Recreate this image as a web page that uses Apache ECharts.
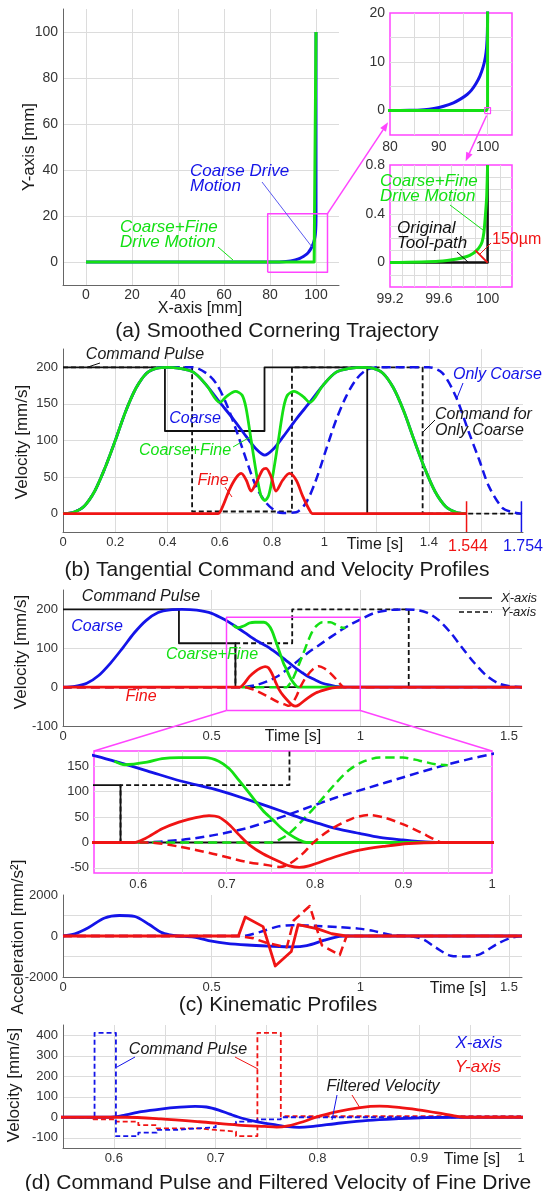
<!DOCTYPE html>
<html>
<head>
<meta charset="utf-8">
<title>Coarse and fine drive cornering</title>
<script src="https://cdn.jsdelivr.net/npm/echarts@6/dist/echarts.min.js"></script>
<style>
  html, body { margin: 0; padding: 0; background: #fff; }
  #chart { width: 554px; height: 1191px; }
</style>
</head>
<body>
<div id="chart"></div>
<script>
// ---------- (a) trajectory [mm] ----------
const toolPath = [[99.2, 0], [100, 0], [100, 0.8]];
const fineCorner = [[99.2, 0], [99.6, 0.012], [99.75, 0.03], [99.83, 0.05], [99.88, 0.075], [99.91, 0.1],
  [99.935, 0.13], [99.955, 0.17], [99.97, 0.25], [99.983, 0.4], [99.993, 0.55], [100, 0.8]];
const fineMotion = [[0, 0]].concat(fineCorner, [[100, 100]]);
const coarseMotion = [[0, 0], [80, 0], [84, 0.05], [87, 0.2], [89, 0.45], [91, 0.9], [93, 1.6], [94.5, 2.4],
  [95.8, 3.3], [96.7, 4.2], [97.6, 5.5], [98.4, 7], [99.1, 9], [99.55, 11], [99.8, 13], [99.95, 16], [100, 20], [100, 100]];
const cornerDev = [[99.9, 0.1], [100, 0]];
const boxA = [[79, -4.5], [105, -4.5], [105, 21], [79, 21], [79, -4.5]];
const boxA2 = [[99.4, -0.6], [100.6, -0.6], [100.6, 0.6], [99.4, 0.6], [99.4, -0.6]];

// ---------- (b) tangential profiles [s, mm/s] ----------
const bCmd = [[0, 200], [0.39, 200], [0.39, 113], [0.771, 113], [0.771, 200], [1.164, 200], [1.164, 0], [1.544, 0]];
const bCmdCoarse = [[0, 200], [0.494, 200], [0.494, 3], [0.876, 3], [0.876, 200], [1.376, 200], [1.376, 0], [1.754, 0]];
const bFull = [[0, 0], [0.04, 2], [0.08, 10], [0.12, 30], [0.16, 62], [0.2, 100], [0.24, 140], [0.28, 172], [0.32, 192],
  [0.36, 199], [0.4, 200], [0.44, 199], [0.5, 193], [0.55, 175], [0.6, 152], [0.625, 160], [0.66, 167], [0.685, 162],
  [0.7, 145], [0.72, 100], [0.74, 55], [0.757, 25], [0.772, 18], [0.787, 25], [0.804, 55], [0.824, 100], [0.844, 145],
  [0.859, 162], [0.884, 167], [0.919, 160], [0.944, 152], [0.994, 175], [1.044, 193], [1.104, 199], [1.144, 200],
  [1.184, 199], [1.224, 192], [1.264, 172], [1.304, 140], [1.344, 100], [1.384, 62], [1.424, 30], [1.464, 10], [1.504, 2], [1.544, 0]];
const bCoarse = [[0, 0], [0.04, 2], [0.08, 10], [0.12, 30], [0.16, 62], [0.2, 100], [0.24, 140], [0.28, 172], [0.32, 192],
  [0.36, 199], [0.4, 200], [0.44, 199], [0.5, 193], [0.55, 175], [0.6, 152], [0.65, 130], [0.7, 106], [0.74, 88], [0.772, 80],
  [0.804, 88], [0.844, 106], [0.894, 130], [0.944, 152], [0.994, 175], [1.044, 193], [1.104, 199], [1.144, 200],
  [1.184, 199], [1.224, 192], [1.264, 172], [1.304, 140], [1.344, 100], [1.384, 62], [1.424, 30], [1.464, 10], [1.504, 2], [1.544, 0]];
const bOnlyCoarse = [[0, 0], [0.04, 2], [0.08, 10], [0.12, 30], [0.16, 62], [0.2, 100], [0.24, 140], [0.28, 172], [0.32, 192],
  [0.36, 199], [0.4, 200], [0.497, 200], [0.548, 192], [0.586, 178], [0.624, 151], [0.662, 115], [0.701, 74], [0.739, 37],
  [0.777, 15], [0.815, 3], [0.841, 1], [0.892, 2], [0.93, 15], [0.968, 46], [1.006, 87], [1.045, 128], [1.083, 160],
  [1.121, 183], [1.159, 196], [1.204, 200], [1.4, 200], [1.452, 192], [1.503, 160], [1.554, 110], [1.592, 74], [1.63, 37],
  [1.681, 8], [1.72, 2], [1.754, 0]];
const bFine = [[0, 0], [0.592, 0], [0.611, 10], [0.637, 33], [0.662, 49], [0.682, 55], [0.701, 46], [0.72, 31], [0.739, 42],
  [0.764, 60], [0.777, 62], [0.796, 51], [0.815, 31], [0.841, 46], [0.866, 55], [0.892, 46], [0.917, 24], [0.943, 5],
  [0.955, 0], [1.544, 0]];
const endFull = [[1.544, 17], [1.544, -25]];
const endCoarse = [[1.754, 17], [1.754, -25]];

// ---------- (c) axis profiles [s, mm/s] ----------
const cCmdX = [[0, 200], [0.39, 200], [0.39, 113], [0.58, 113], [0.58, 0], [1.544, 0]];
const cCmdY = [[0, 0], [0.58, 0], [0.58, 113], [0.771, 113], [0.771, 200], [1.163, 200], [1.163, 0], [1.544, 0]];
const cCoarseX = [[0, 0], [0.04, 2], [0.08, 10], [0.12, 30], [0.16, 62], [0.2, 100], [0.24, 140], [0.28, 172], [0.32, 192],
  [0.36, 199], [0.4, 200], [0.45, 198], [0.5, 190], [0.55, 171], [0.573, 160], [0.61, 141], [0.648, 121], [0.686, 105],
  [0.705, 95], [0.735, 78], [0.76, 63], [0.786, 47], [0.805, 37], [0.823, 28], [0.85, 18], [0.873, 10], [0.899, 5],
  [0.925, 1], [0.95, 0], [1.544, 0]];
const cCoarseY = [[0, 0], [0.6, 0], [0.648, 5], [0.684, 14], [0.722, 28], [0.748, 42], [0.772, 56], [0.786, 65], [0.823, 88],
  [0.861, 108], [0.899, 128], [0.936, 147], [0.974, 164], [1.0, 174], [1.044, 190], [1.094, 198], [1.144, 200], [1.184, 199],
  [1.224, 192], [1.264, 172], [1.304, 140], [1.344, 100], [1.384, 62], [1.424, 30], [1.464, 10], [1.504, 2], [1.544, 0]];
const cFullX = [[0.573, 160], [0.585, 153], [0.61, 158], [0.627, 165], [0.646, 167], [0.676, 167], [0.691, 160], [0.703, 145],
  [0.714, 122], [0.726, 96], [0.741, 63], [0.752, 45], [0.762, 28], [0.771, 16], [0.782, 5], [0.79, 0], [0.94, 0]];
const cFullY = [[0.6, 0], [0.752, 0], [0.759, 5], [0.771, 18], [0.786, 44], [0.805, 80], [0.823, 116], [0.838, 142],
  [0.853, 158], [0.873, 167], [0.899, 167], [0.918, 161], [0.936, 154], [0.95, 152]];
const cFineX = [[0, 0], [0.595, 0], [0.608, 8], [0.627, 27], [0.646, 40], [0.665, 49], [0.68, 53], [0.691, 50], [0.703, 35],
  [0.714, 15], [0.726, -5], [0.741, -22], [0.76, -38], [0.771, -46], [0.782, -49], [0.793, -46], [0.823, -28], [0.85, -15],
  [0.88, -7], [0.906, -2], [0.94, 0], [1.544, 0]];
const cFineY = [[0, 0], [0.611, 0], [0.646, -8], [0.684, -22], [0.722, -38], [0.748, -45], [0.76, -48], [0.771, -42],
  [0.786, -22], [0.797, -2], [0.816, 24], [0.842, 47], [0.861, 54], [0.88, 48], [0.899, 36], [0.918, 21], [0.936, 5],
  [0.944, 0], [1.544, 0]];
const boxC = [[0.55, -60], [1, -60], [1, 180], [0.55, 180], [0.55, -60]];

// acceleration [mm/s^2]
const accCoarseX = [[0, 0], [0.04, 100], [0.085, 400], [0.14, 880], [0.19, 1000], [0.24, 960], [0.29, 560], [0.33, 180],
  [0.36, 50], [0.385, 0], [0.44, -50], [0.5, -250], [0.55, -360], [0.62, -440], [0.69, -490], [0.77, -530], [0.82, -470],
  [0.88, -200], [0.93, -15], [0.95, 0], [1.544, 0]];
const accCoarseY = [[0, 0], [0.594, 0], [0.614, 15], [0.664, 200], [0.724, 470], [0.774, 530], [0.854, 490], [0.924, 440],
  [0.994, 360], [1.044, 250], [1.104, 50], [1.159, 0], [1.184, -50], [1.214, -180], [1.254, -560], [1.304, -960],
  [1.354, -1000], [1.404, -880], [1.459, -400], [1.504, -100], [1.544, 0]];
const accFineX = [[0, 0], [0.59, 0], [0.613, 930], [0.673, 457], [0.714, -1465], [0.768, -756], [0.791, 551], [0.857, 346],
  [0.904, 110], [0.952, 0], [1.544, 0]];
const accFineY = [[0, 0], [0.592, 0], [0.64, -110], [0.687, -346], [0.753, -551], [0.776, 756], [0.83, 1465], [0.871, -457],
  [0.931, -929], [0.954, 0], [1.544, 0]];

// ---------- (d) fine drive command pulses [s, mm/s] ----------
const dCmdX = [[0.55, 0], [0.581, 0], [0.581, 412], [0.602, 412], [0.602, -92], [0.624, -92], [0.624, -75], [0.642, -75],
  [0.642, -62], [0.66, -62], [0.66, -55], [0.68, -55], [0.68, -49], [0.7, -49], [0.7, -33], [0.72, -33], [0.72, -21],
  [0.741, -21], [0.741, -10], [0.764, -10], [0.764, 0], [1, 0]];
const dCmdY = [[0.55, 0], [0.58, 0], [0.58, -10], [0.602, -10], [0.602, -21], [0.624, -21], [0.624, -38], [0.642, -38],
  [0.642, -54], [0.682, -54], [0.682, -62], [0.7, -62], [0.7, -70], [0.72, -70], [0.72, -92], [0.741, -92], [0.741, 412],
  [0.764, 412], [0.764, 5], [1, 5]];

// tick labels
const aTicks = [0, 20, 40, 60, 80, 100];
const in1XTicks = [80, 90, 100], in1YTicks = [0, 10, 20];
const in2XTicks = [99.2, 99.6, 100], in2YTicks = [0, 0.4, 0.8];
const bXTicks = [0, 0.2, 0.4, 0.6, 0.8, 1, 1.4], bYTicks = [0, 50, 100, 150, 200];
const cXTicks = [0, 0.5, 1, 1.5], cYTicks = [-100, 0, 100, 200];
const czXTicks = [0.6, 0.7, 0.8, 0.9, 1], czYTicks = [-50, 0, 50, 100, 150];
const caYTicks = [-2000, 0, 2000];
const dXTicks = [0.6, 0.7, 0.8, 0.9, 1], dYTicks = [-100, 0, 100, 200, 300, 400];

// ---------- styling ----------
const FONT = '"Liberation Sans", Arial, sans-serif';
const GREEN = '#14e014', BLUE = '#1414e8', RED = '#f01414', BLACK = '#111', MAG = '#ff44ff';
const GRIDC = '#dcdcdc', AXC = '#666';

const chart = echarts.init(document.getElementById('chart'));

function fmt(v) { return String(parseFloat(Number(v).toFixed(4))); }

function axis(g, min, max, step, labels, size, boxed, margin) {
  const a = {
    gridIndex: g, type: 'value', min: min, max: max,
    axisLine: { show: !boxed, onZero: false, lineStyle: { color: AXC, width: 1 } },
    axisTick: { show: false },
    splitLine: { show: true, showMinLine: false, showMaxLine: false, lineStyle: { color: GRIDC, width: 1 } },
    axisLabel: {
      fontFamily: FONT, fontSize: size || 13, color: '#333', margin: margin == null ? 5 : margin,
      showMinLabel: true, showMaxLabel: true,
      formatter: function (v) { return labels.some(l => Math.abs(l - v) < 1e-6) ? fmt(v) : ''; }
    }
  };
  // interval counts from min, so use it only when min is a multiple of the step
  if (Math.abs(Math.round(min / step) * step - min) < 1e-9) a.interval = step;
  else { a.minInterval = step; a.maxInterval = step; }
  return a;
}

function ln(g, data, color, width, dash, extra) {
  return Object.assign({
    type: 'line', xAxisIndex: g, yAxisIndex: g, data: data, symbol: 'none', silent: true,
    animation: false, clip: true,
    lineStyle: { color: color, width: width, type: dash || 'solid', join: 'round' }
  }, extra || {});
}
const SM = { smooth: 0.3 };

const boxed = { show: true, borderColor: MAG, borderWidth: 1.5, backgroundColor: '#fff' };
const grids = [
  { left: 63, top: 9, width: 276, height: 276 },
  Object.assign({ left: 390, top: 13, width: 122, height: 122 }, boxed),
  Object.assign({ left: 390, top: 165, width: 122, height: 122 }, boxed),
  { left: 63, top: 349, width: 460, height: 183 },
  { left: 63, top: 590, width: 459, height: 136 },
  Object.assign({ left: 94, top: 751, width: 398, height: 122 }, boxed),
  { left: 63, top: 895, width: 459, height: 82 },
  { left: 63, top: 1025, width: 458, height: 123 }
];

const xAxes = [
  axis(0, -10, 110, 20, aTicks, 14, false, 3),
  axis(1, 80, 105, 5, in1XTicks, 14, true),
  axis(2, 99.2, 100.2, 0.1, in2XTicks, 14, true),
  axis(3, 0, 1.76, 0.2, bXTicks, 13, false, 4),
  axis(4, 0, 1.544, 0.5, cXTicks, 13, false, 4),
  axis(5, 0.55, 1, 0.05, czXTicks, 13, true),
  axis(6, 0, 1.544, 0.5, cXTicks, 13, false, 4),
  axis(7, 0.55, 1, 0.05, dXTicks, 13, false, 4)
];
const yAxes = [
  axis(0, -10, 110, 20, aTicks, 14),
  axis(1, -5, 20, 5, in1YTicks, 14, true),
  axis(2, -0.2, 0.8, 0.1, in2YTicks, 14, true),
  axis(3, -25, 225, 50, bYTicks, 13),
  axis(4, -100, 250, 100, cYTicks, 13),
  axis(5, -60, 180, 50, czYTicks, 13, true),
  axis(6, -2000, 2000, 1000, caYTicks, 13),
  axis(7, -150, 450, 100, dYTicks, 13)
];

const DB = [9, 5], DK = [5, 3];
const series = [
  // (a)
  ln(0, coarseMotion, BLUE, 3, null, { smooth: 0.2 }),
  ln(0, fineMotion, GREEN, 3),
  ln(0, boxA, MAG, 1.5),
  ln(1, coarseMotion, BLUE, 3, null, { smooth: 0.2 }),
  ln(1, fineMotion, GREEN, 3),
  ln(1, boxA2, MAG, 1.2),
  ln(2, toolPath, BLACK, 2.5),
  ln(2, fineCorner, GREEN, 3, null, { smooth: 0.2 }),
  ln(2, cornerDev, RED, 2),
  // (b)
  ln(3, bCmdCoarse, BLACK, 1.8, DK),
  ln(3, bCmd, BLACK, 1.8),
  ln(3, bOnlyCoarse, BLUE, 2.5, DB, SM),
  ln(3, bCoarse, BLUE, 2.8, null, SM),
  ln(3, bFull, GREEN, 2.8, null, SM),
  ln(3, bFine, RED, 2.8, null, SM),
  ln(3, endFull, RED, 1.5),
  ln(3, endCoarse, BLUE, 1.5),
  // (c) velocity
  ln(4, cCmdY, BLACK, 1.8, DK),
  ln(4, cCmdX, BLACK, 1.8),
  ln(4, cCoarseY, BLUE, 2.5, DB, SM),
  ln(4, cFullY, GREEN, 2.5, DB, SM),
  ln(4, cCoarseX, BLUE, 2.8, null, SM),
  ln(4, cFullX, GREEN, 2.8, null, SM),
  ln(4, cFineY, RED, 2.5, DB, SM),
  ln(4, cFineX, RED, 2.8, null, SM),
  ln(4, boxC, MAG, 1.5),
  // (c) zoom
  ln(5, cCmdY, BLACK, 1.8, DK),
  ln(5, cCmdX, BLACK, 1.8),
  ln(5, cCoarseY, BLUE, 2.5, DB, SM),
  ln(5, cFullY, GREEN, 2.5, DB, SM),
  ln(5, cCoarseX, BLUE, 2.8, null, SM),
  ln(5, cFullX, GREEN, 2.8, null, SM),
  ln(5, cFineY, RED, 2.5, DB, SM),
  ln(5, cFineX, RED, 2.8, null, SM),
  // (c) acceleration
  ln(6, accCoarseY, BLUE, 2.5, DB, SM),
  ln(6, accCoarseX, BLUE, 2.8, null, SM),
  ln(6, accFineY, RED, 2.5, DB),
  ln(6, accFineX, RED, 2.8),
  // (d)
  ln(7, dCmdY, RED, 1.8, DK),
  ln(7, dCmdX, BLUE, 1.8, DK),
  ln(7, cFineX, BLUE, 2.8, null, SM),
  ln(7, cFineY, RED, 2.8, null, SM)
];

chart.setOption({
  animation: false,
  backgroundColor: '#fff',
  grid: grids,
  xAxis: xAxes,
  yAxis: yAxes,
  series: series
});

// ---------- annotations ----------
function txt(s, x, y, o) {
  o = o || {};
  const font = (o.italic ? 'italic ' : '') + (o.size || 17) + 'px ' + FONT;
  return {
    type: 'text', x: x, y: y, rotation: o.rot ? Math.PI / 2 : 0, silent: true, z: 100,
    style: {
      text: s, fill: o.color || '#1a1a1a', font: font,
      textAlign: o.align || 'center', textVerticalAlign: 'middle',
      align: o.align || 'center', verticalAlign: 'middle',
      lineHeight: o.lh || 16
    }
  };
}
function seg(x1, y1, x2, y2, color, w) {
  return { type: 'line', silent: true, z: 100, shape: { x1: x1, y1: y1, x2: x2, y2: y2 },
    style: { stroke: color, lineWidth: w || 1 } };
}
function arrow(p0, p1) {
  const dx = p1[0] - p0[0], dy = p1[1] - p0[1], len = Math.hypot(dx, dy);
  const ux = dx / len, uy = dy / len, L = 9, W = 3.5;
  const bx = p1[0] - ux * L, by = p1[1] - uy * L;
  return [
    seg(p0[0], p0[1], bx, by, MAG, 1.5),
    { type: 'polygon', silent: true, z: 100,
      shape: { points: [[p1[0], p1[1]], [bx - uy * W, by + ux * W], [bx + uy * W, by - ux * W]] },
      style: { fill: MAG } }
  ];
}
const px = (g, pt) => chart.convertToPixel({ gridIndex: g }, pt);

const el = [];
// connectors
el.push.apply(el, arrow(px(0, [105, 21]), px(1, [79.6, -2.4])));
el.push.apply(el, arrow(px(1, [99.8, -1.0]), px(2, [99.82, 0.83])));
const c1 = px(4, [0.55, -60]), c2 = px(5, [0.55, 180]), c3 = px(4, [1, -60]), c4 = px(5, [1, 180]);
el.push(seg(c1[0], c1[1], c2[0], c2[1], MAG, 1.5), seg(c3[0], c3[1], c4[0], c4[1], MAG, 1.5));

// axis names and captions
el.push(
  txt('Y-axis [mm]', 29, 147, { rot: 1 }),
  txt('X-axis [mm]', 200, 309, { size: 16 }),
  txt('(a) Smoothed Cornering Trajectory', 277, 331, { size: 21 }),
  txt('Velocity [mm/s]', 22, 442, { rot: 1 }),
  txt('Time [s]', 375, 545, { size: 16 }),
  txt('(b) Tangential Command and Velocity Profiles', 277, 570, { size: 21 }),
  txt('Velocity [mm/s]', 21, 652, { rot: 1 }),
  txt('Time [s]', 293, 737, { size: 16 }),
  txt('Acceleration [mm/s²]', 18, 937, { rot: 1 }),
  txt('Time [s]', 458, 989, { size: 16 }),
  txt('(c) Kinematic Profiles', 278, 1005, { size: 21 }),
  txt('Velocity [mm/s]', 14, 1085, { rot: 1 }),
  txt('Time [s]', 472, 1160, { size: 16 }),
  txt('(d) Command Pulse and Filtered Velocity of Fine Drive', 278, 1183, { size: 21 })
);

// (a) labels
el.push(
  txt('Coarse Drive\nMotion', 190, 179, { italic: true, color: BLUE, align: 'left', lh: 15 }),
  seg(262, 182, 312, 247, '#5a5af0', 1),
  txt('Coarse+Fine\nDrive Motion', 120, 235, { italic: true, color: GREEN, align: 'left', lh: 15 }),
  seg(218, 247, 233, 260, GREEN, 1),
  txt('Coarse+Fine\nDrive Motion', 380, 189, { italic: true, color: GREEN, align: 'left', lh: 15 }),
  seg(450, 205, 483, 230, GREEN, 1),
  txt('Original\nTool-path', 397, 236, { italic: true, color: BLACK, align: 'left', lh: 15 }),
  seg(457, 252, 468, 262, BLACK, 1),
  txt('150µm', 492, 240, { color: RED, align: 'left', size: 16 }),
  seg(491, 243, 480, 254, RED, 1)
);

// (b) labels
el.push(
  txt('Command Pulse', 145, 355, { italic: true, size: 16 }),
  seg(100, 363, 88, 367, BLACK, 1),
  txt('Coarse', 195, 419, { italic: true, size: 16, color: BLUE }),
  txt('Coarse+Fine', 185, 451, { italic: true, size: 16, color: GREEN }),
  seg(233, 447, 250, 437, GREEN, 1),
  txt('Fine', 213, 481, { italic: true, size: 16, color: RED }),
  seg(225, 487, 232, 497, RED, 1),
  txt('Only Coarse', 453, 375, { italic: true, size: 16, color: BLUE, align: 'left' }),
  seg(463, 383, 457, 398, BLUE, 1),
  txt('Command for\nOnly Coarse', 435, 423, { italic: true, size: 16, align: 'left' }),
  seg(435, 420, 423, 432, BLACK, 1),
  txt('1.544', 468, 547, { size: 16, color: RED }),
  txt('1.754', 523, 547, { size: 16, color: BLUE })
);

// (c) labels and legend
el.push(
  txt('Command Pulse', 141, 597, { italic: true, size: 16 }),
  txt('Coarse', 97, 627, { italic: true, size: 16, color: BLUE }),
  txt('Coarse+Fine', 212, 655, { italic: true, size: 16, color: GREEN }),
  txt('Fine', 141, 697, { italic: true, size: 16, color: RED }),
  seg(459, 598, 492, 598, BLACK, 1.5),
  { type: 'line', silent: true, z: 100, shape: { x1: 459, y1: 612, x2: 492, y2: 612 },
    style: { stroke: BLACK, lineWidth: 1.5, lineDash: [5, 3] } },
  txt('X-axis', 501, 598, { italic: true, size: 13, align: 'left' }),
  txt('Y-axis', 501, 612, { italic: true, size: 13, align: 'left' })
);

// (d) labels
el.push(
  txt('Command Pulse', 188, 1050, { italic: true, size: 16 }),
  seg(135, 1057, 117, 1067, BLUE, 1),
  seg(235, 1057, 258, 1069, RED, 1),
  txt('Filtered Velocity', 383, 1087, { italic: true, size: 16 }),
  seg(337, 1095, 332, 1120, BLUE, 1),
  seg(352, 1095, 360, 1108, RED, 1),
  txt('X-axis', 479, 1043, { italic: true, color: BLUE }),
  txt('Y-axis', 478, 1067, { italic: true, color: RED })
);

chart.setOption({ graphic: { elements: el } });
</script>
</body>
</html>
